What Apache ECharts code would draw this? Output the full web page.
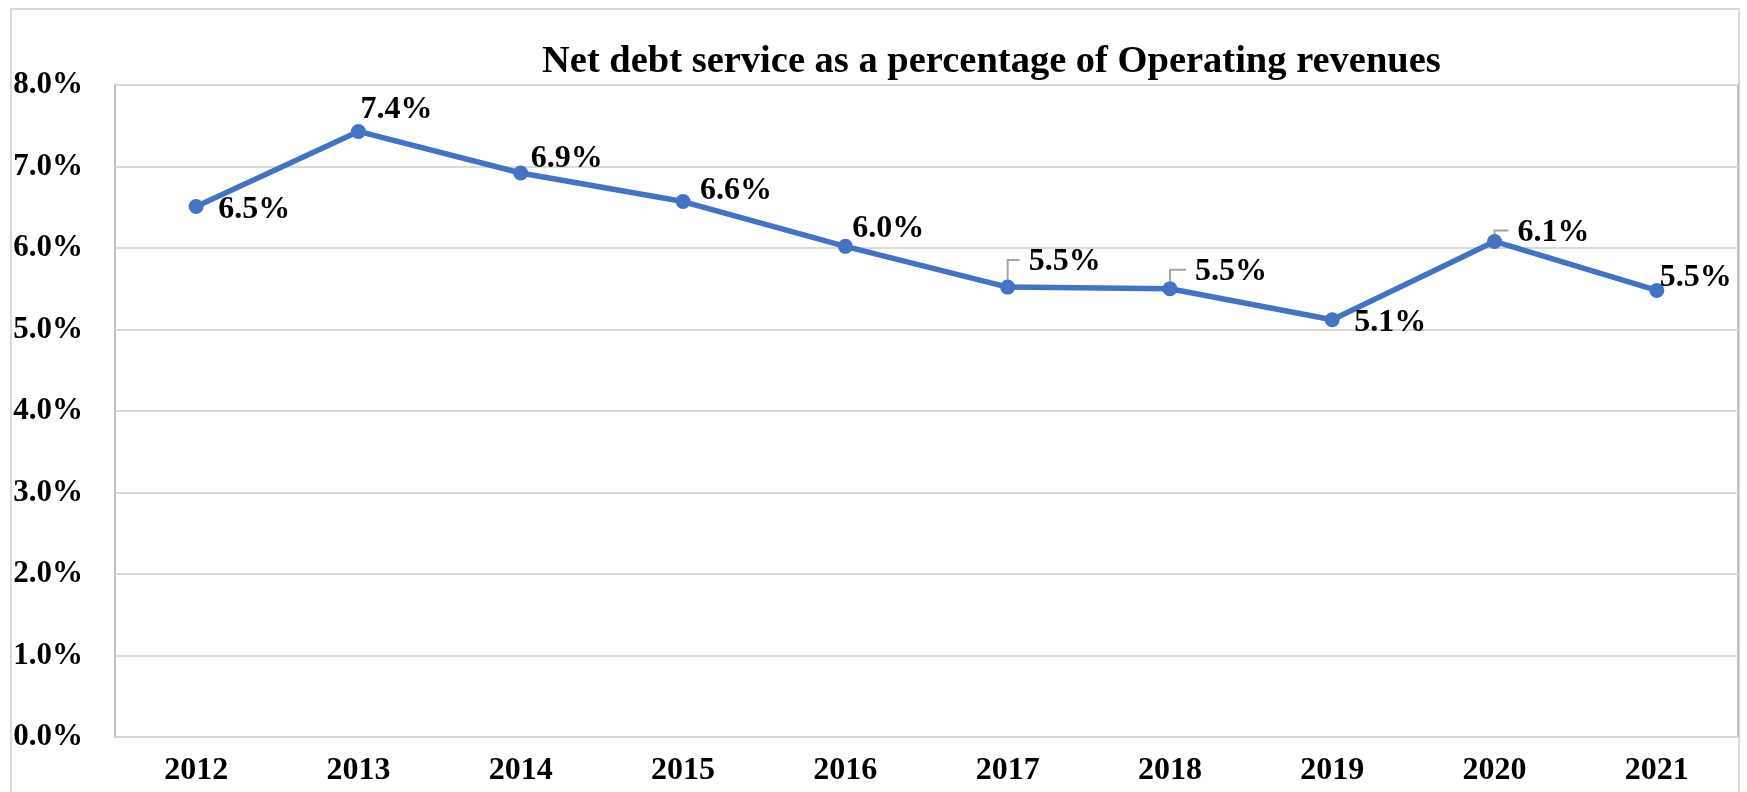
<!DOCTYPE html>
<html>
<head>
<meta charset="utf-8">
<title>Net debt service as a percentage of Operating revenues</title>
<script src="https://cdn.jsdelivr.net/npm/echarts@6/dist/echarts.min.js"></script>
<style>
  html, body { margin: 0; padding: 0; background: #ffffff; }
  #chart { width: 1747px; height: 792px; }
</style>
</head>
<body>
<div id="chart"></div>
<script>
// Fiscal years on the category axis
const years = ['2012', '2013', '2014', '2015', '2016', '2017', '2018', '2019', '2020', '2021'];
// Net debt service as a share of operating revenues, in percent
const debtServicePct = [6.51, 7.43, 6.92, 6.57, 6.02, 5.52, 5.50, 5.12, 6.08, 5.48];
// Value axis ticks, in percent
const yTicks = [0, 1, 2, 3, 4, 5, 6, 7, 8];

const FONT = "'Liberation Serif', 'Times New Roman', serif";
const BLUE = '#4472C4';

// Where each value label sits relative to its point: [dx, dy] in px,
// plus whether a small elbow leader connects label and point.
const labelPlacement = [
  { dx: 22, dy: 3 },
  { dx: 2, dy: -22 },
  { dx: 10, dy: -14 },
  { dx: 17, dy: -11 },
  { dx: 7, dy: -18 },
  { dx: 21, dy: -25, leader: true },
  { dx: 25, dy: -17, leader: true },
  { dx: 22, dy: 3 },
  { dx: 23, dy: -9, leader: true },
  { dx: 3, dy: -13 }
];

const lineData = debtServicePct.map((v, i) => ({
  value: v,
  label: { offset: [labelPlacement[i].dx, labelPlacement[i].dy] }
}));

const leaderData = [];
debtServicePct.forEach((v, i) => {
  const p = labelPlacement[i];
  if (p.leader) leaderData.push([i, v, p.dx, p.dy]);
});

const chart = echarts.init(document.getElementById('chart'), null, { renderer: 'canvas' });

chart.setOption({
  backgroundColor: '#ffffff',
  animation: false,
  title: {
    text: 'Net debt service as a percentage of Operating revenues',
    left: 542,
    top: 43,
    padding: 0,
    textStyle: { fontFamily: FONT, fontWeight: 'bold', fontSize: 38.5, color: '#000000' }
  },
  graphic: [{
    type: 'rect',
    shape: { x: 11, y: 9, width: 1728, height: 810 },
    style: { fill: 'none', stroke: '#d9d9d9', lineWidth: 2 },
    silent: true,
    z: -1
  }],
  grid: {
    left: 115, right: 9, top: 85, bottom: 55,
    show: true,
    borderColor: '#bfbfbf',
    borderWidth: 2,
    containLabel: false
  },
  xAxis: {
    type: 'category',
    data: years,
    boundaryGap: true,
    axisLine: { show: true, lineStyle: { color: '#d9d9d9', width: 2 } },
    axisTick: { show: false },
    axisLabel: {
      margin: 18,
      fontFamily: FONT, fontWeight: 'bold', fontSize: 32, color: '#000000'
    },
    splitLine: { show: false }
  },
  yAxis: {
    type: 'value',
    min: yTicks[0],
    max: yTicks[yTicks.length - 1],
    interval: yTicks[1] - yTicks[0],
    axisLine: { show: false },
    axisTick: { show: false },
    axisLabel: {
      margin: 32,
      fontFamily: FONT, fontWeight: 'bold', fontSize: 31, color: '#000000',
      formatter: v => v.toFixed(1) + '%'
    },
    splitLine: { show: true, lineStyle: { color: '#d9d9d9', width: 2 } }
  },
  series: [
    {
      type: 'line',
      data: lineData,
      symbol: 'circle',
      symbolSize: 15,
      lineStyle: { color: BLUE, width: 5.5 },
      itemStyle: { color: BLUE },
      label: {
        show: true,
        position: 'inside',
        align: 'left',
        verticalAlign: 'middle',
        fontFamily: FONT, fontWeight: 'bold', fontSize: 32, color: '#000000',
        formatter: p => p.value.toFixed(1) + '%'
      },
      z: 3
    },
    {
      // elbow leaders from a point up to its shifted label
      type: 'custom',
      data: leaderData,
      silent: true,
      z: 2,
      renderItem: (params, api) => {
        const pt = api.coord([api.value(0), api.value(1)]);
        const dx = api.value(2);
        const dy = api.value(3);
        const yTop = pt[1] + dy - 2;
        return {
          type: 'polyline',
          shape: { points: [[pt[0], pt[1] - 7], [pt[0], yTop], [pt[0] + dx - 9, yTop]] },
          style: { fill: 'none', stroke: '#a6a6a6', lineWidth: 2 }
        };
      }
    }
  ]
});
</script>
</body>
</html>
